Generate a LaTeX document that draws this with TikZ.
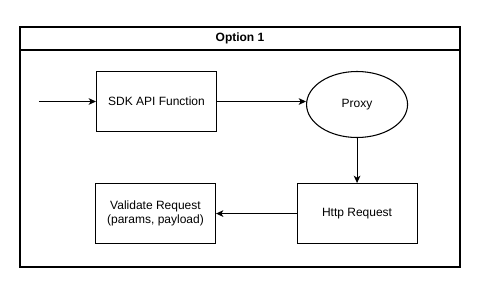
\documentclass[tikz,border=0pt]{standalone}
\usepackage{fontspec}
\setmainfont{Liberation Sans}
\usepackage{tikz}
\usetikzlibrary{shapes.geometric, arrows.meta, positioning}

\begin{document}
\begin{tikzpicture}[
        x=0.75pt, y=-0.75pt,
        font=\fontsize{9}{10.5}\selectfont,
        box/.style={rectangle, draw, line width=0.8pt, align=center, minimum width=90pt, minimum height=45pt, inner sep=0pt},
        proxyshape/.style={ellipse, draw, line width=0.8pt, minimum width=75.75pt, minimum height=49.5pt, inner sep=0pt},
        frame/.style={draw, line width=0.8pt},
        arrow/.style={-{Stealth[length=5.5pt, width=5pt, inset=1.5pt]}, line width=0.8pt}
    ]
        \useasboundingbox (0,0) rectangle (480,300);

        % container with its title bar
        \draw[frame] (20,27) rectangle (460,267);
        \draw[frame] (20,50) -- (460,50);
        \node[font=\fontsize{9}{10.5}\selectfont\bfseries] (title) at (240,38.5) {Option 1};

        \node[box] (sdk) at (156.5,101.5) {SDK API Function};
        \node[proxyshape, right=66.75pt of sdk, yshift=-2.25pt] (proxy) {Proxy};
        \node[box, below=33.75pt of proxy] (http) {Http Request};
        \node[box, left=60.375pt of http] (validate) {Validate Request\\(params, payload)};
        \coordinate (entry) at (39,101.5);

        \draw[arrow] (entry) -- (sdk.west);
        \draw[arrow] (sdk.east) -- (sdk.east -| proxy.west);
        \draw[arrow] (proxy.south) -- (proxy.south |- http.north);
        \draw[arrow] (http.west) -- (validate.east);
    \end{tikzpicture}
\end{document}
